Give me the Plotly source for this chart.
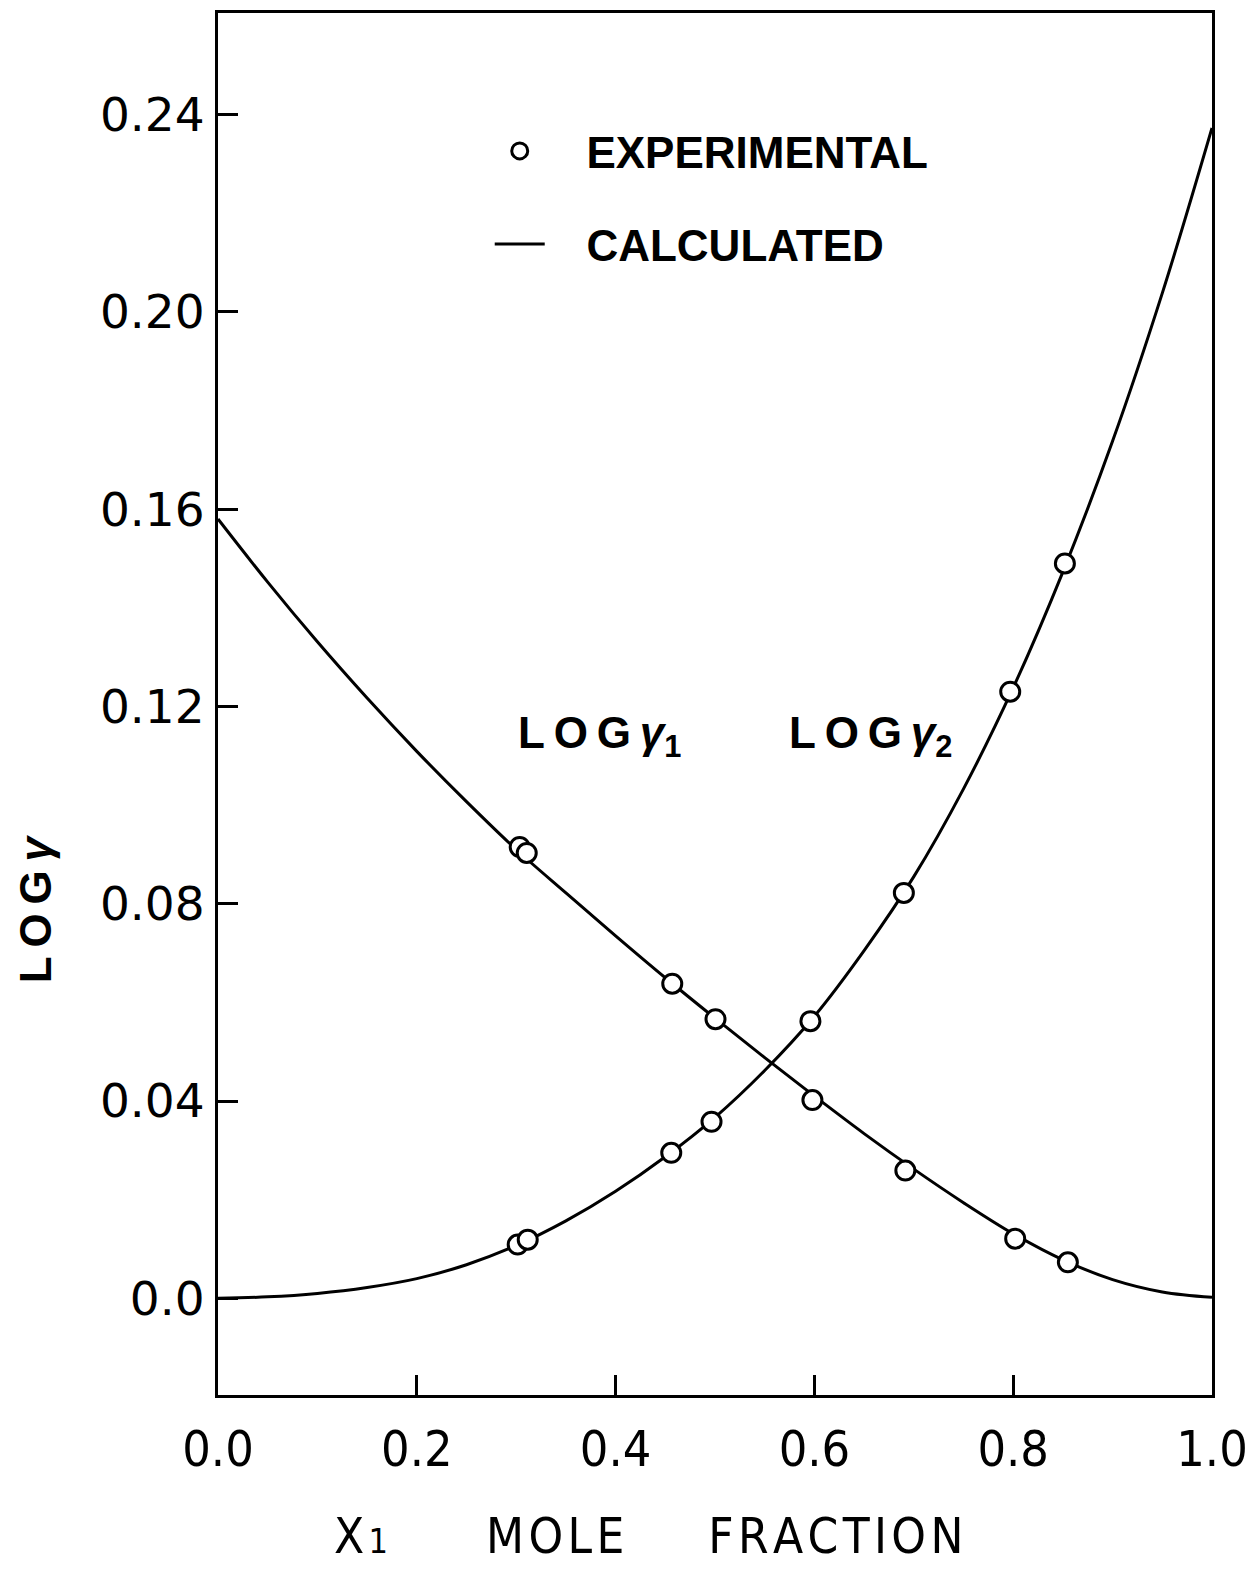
import plotly.graph_objects as go

# ---- data ----
x_curve = [0.0, 0.05, 0.1, 0.15, 0.2, 0.25, 0.3, 0.35, 0.4, 0.45, 0.5,
           0.55, 0.6, 0.65, 0.7, 0.75, 0.8, 0.85, 0.9, 0.95, 1.0]
log_g1_calc = [0.1580, 0.1452, 0.1331, 0.1217, 0.1109, 0.1007, 0.0910, 0.0822,
               0.0735, 0.0650, 0.0568, 0.0488, 0.0410, 0.0334, 0.0262, 0.0194,
               0.0131, 0.0078, 0.0038, 0.0013, 0.0002]
log_g2_calc = [0.0, 0.0003, 0.0010, 0.0022, 0.0040, 0.0068, 0.0107, 0.0157,
               0.0217, 0.0287, 0.0367, 0.0462, 0.0572, 0.0705, 0.0855, 0.1033,
               0.1238, 0.1473, 0.1738, 0.2038, 0.2373]

x_exp_g1 = [0.3035, 0.3106, 0.457, 0.5005, 0.598, 0.6915, 0.802, 0.855]
log_g1_exp = [0.0915, 0.0903, 0.0638, 0.0566, 0.0402, 0.0259, 0.0121, 0.0073]
x_exp_g2 = [0.3015, 0.3116, 0.456, 0.4965, 0.596, 0.690, 0.797, 0.852]
log_g2_exp = [0.0109, 0.0119, 0.0295, 0.0358, 0.0562, 0.0822, 0.123, 0.149]

x_ticks = [0.0, 0.2, 0.4, 0.6, 0.8, 1.0]
x_tick_text = ["0.0", "0.2", "0.4", "0.6", "0.8", "1.0"]
y_ticks = [0.0, 0.04, 0.08, 0.12, 0.16, 0.20, 0.24]
y_tick_text = ["0.0", "0.04", "0.08", "0.12", "0.16", "0.20", "0.24"]

WIDE = "DejaVu Sans, Verdana, sans-serif"
NARROW = "Liberation Sans Narrow, DejaVu Sans Condensed, Arial Narrow, sans-serif"
BOLD = "Liberation Sans, Arial, sans-serif"

# plot-area pixel geometry (used only to place free text)
L, R, T, B = 218, 1213, 10, 1395
def px(xp):
    return (xp - L) / (R - L)
def py(yp):
    return 1 - (yp - T) / (B - T)

NB = "\u00a0"
TH = "\u2009"   # thin space
HR = "\u200a"   # hair space

fig = go.Figure()

fig.add_trace(go.Scatter(x=x_curve, y=log_g1_calc, mode="lines",
                         line=dict(color="black", width=3, shape="spline"),
                         name=NB * 3 + "CALCULATED", legendgroup="calc",
                         legendrank=2, showlegend=True))
fig.add_trace(go.Scatter(x=x_curve, y=log_g2_calc, mode="lines",
                         line=dict(color="black", width=3, shape="spline"),
                         name="CALCULATED", legendgroup="calc",
                         legendrank=2, showlegend=False))
marker = dict(symbol="circle", size=19, color="white",
              line=dict(color="black", width=3))
fig.add_trace(go.Scatter(x=x_exp_g1, y=log_g1_exp, mode="markers", marker=marker,
                         name=NB * 3 + "EXPERIMENTAL", legendgroup="exp",
                         legendrank=1, showlegend=True))
fig.add_trace(go.Scatter(x=x_exp_g2, y=log_g2_exp, mode="markers", marker=marker,
                         name="EXPERIMENTAL", legendgroup="exp",
                         legendrank=1, showlegend=False))

fig.update_layout(
    width=1258, height=1572,
    margin=dict(l=L, r=1258 - R, t=T, b=1572 - B),
    paper_bgcolor="white", plot_bgcolor="white",
    showlegend=True,
    legend=dict(x=px(490), y=py(113), xanchor="left", yanchor="top",
                traceorder="grouped", tracegroupgap=33,
                itemwidth=50, bgcolor="rgba(0,0,0,0)",
                font=dict(family=BOLD, size=44, color="black", weight="bold")),
    xaxis=dict(range=[0, 1], tickvals=x_ticks, ticktext=x_tick_text,
               ticks="inside", ticklen=20, tickwidth=2.5, tickcolor="black",
               showline=True, linecolor="black", linewidth=3, mirror=True,
               showgrid=False, zeroline=False, ticklabelstandoff=8,
               tickfont=dict(family=NARROW, size=50, color="black")),
    yaxis=dict(range=[-0.0196, 0.2606], tickvals=y_ticks, ticktext=y_tick_text,
               ticks="inside", ticklen=20, tickwidth=2.5, tickcolor="black",
               showline=True, linecolor="black", linewidth=3, mirror=True,
               showgrid=False, zeroline=False, ticklabelstandoff=1,
               tickfont=dict(family=WIDE, size=47, color="black")),
)

lab_font = dict(family=BOLD, size=44, color="black", weight="bold")
fig.add_annotation(text="L" + TH + "O" + TH + "G" + TH + "<i>γ</i><sub>1</sub>",
                   x=0.30, y=0.114, xref="x", yref="y",
                   xanchor="left", yanchor="middle", showarrow=False, font=lab_font)
fig.add_annotation(text="L" + TH + "O" + TH + "G" + TH + "<i>γ</i><sub>2</sub>",
                   x=0.572, y=0.114, xref="x", yref="y",
                   xanchor="left", yanchor="middle", showarrow=False, font=lab_font)
fig.add_annotation(text="L" + TH + "O" + TH + "G" + TH + "<i>γ</i>", x=px(35), y=py(908),
                   xref="paper", yref="paper", textangle=-90,
                   xanchor="center", yanchor="middle", showarrow=False,
                   font=dict(family=BOLD, size=44, color="black", weight="bold"))
fig.add_annotation(text="X" + HR + "<span style='font-size:34px'>1</span>" + NB * 7
                   + HR.join("MOLE") + NB * 6 + HR.join("FRACTION"),
                   x=px(649), y=py(1537), xref="paper", yref="paper",
                   xanchor="center", yanchor="middle", showarrow=False,
                   font=dict(family=NARROW, size=49, color="black"))

fig.write_html("out.html")
